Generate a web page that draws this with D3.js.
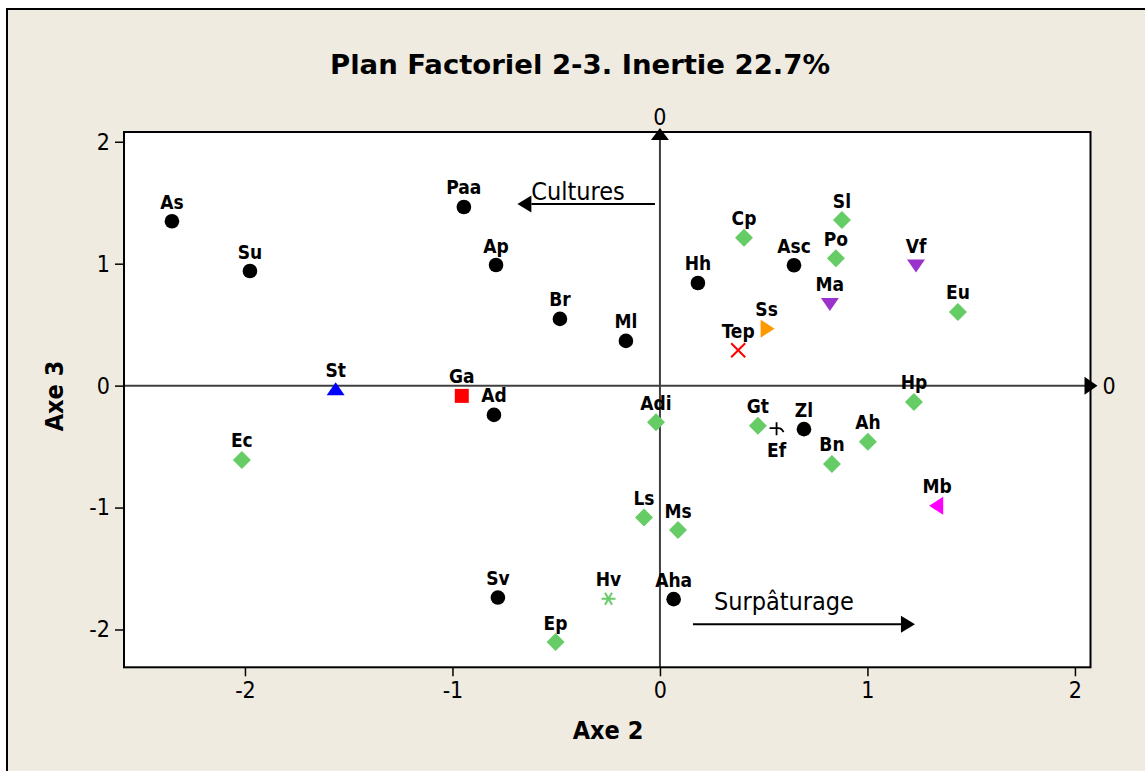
<!DOCTYPE html>
<html>
<head>
<meta charset="utf-8">
<script src="https://cdn.jsdelivr.net/npm/d3@7"></script>
<style>
  html, body { margin: 0; padding: 0; background: #ffffff; }
  svg { display: block; }
  text { font-family: "DejaVu Sans Condensed", "DejaVu Sans", sans-serif; font-stretch: condensed; }
</style>
</head>
<body>
<svg id="chart" width="1145" height="771"></svg>
<script>
// ---- data ----
const names  = ["As","Su","Paa","Ap","Br","Ml","St","Ga","Ad","Ec","Adi","Ls","Ms","Sv","Hv","Ep","Aha",
                "Hh","Cp","Asc","Sl","Po","Vf","Ma","Eu","Ss","Tep","Hp","Gt","Ef","Zl","Ah","Bn","Mb"];
const axe2   = [-2.352,-1.976,-0.945,-0.790,-0.482,-0.164,-1.563,-0.955,-0.800,-2.015,-0.019,-0.077,0.087,-0.781,-0.248,-0.503,0.066,
                0.183,0.405,0.646,0.877,0.848,1.234,0.819,1.436,0.514,0.377,1.224,0.472,0.562,0.694,1.002,0.829,1.336];
const axe3   = [1.348,0.940,1.465,0.989,0.547,0.367,-0.03,-0.084,-0.240,-0.609,-0.300,-1.082,-1.185,-1.738,-1.748,-2.103,-1.751,
                0.842,1.213,0.987,1.358,1.044,0.985,0.670,0.604,0.467,0.290,-0.134,-0.330,-0.349,-0.357,-0.461,-0.642,-0.986];
const groups = ["circle","circle","circle","circle","circle","circle","triUp","square","circle","diamond","diamond","diamond","diamond","circle","asterisk","diamond","circle",
                "circle","diamond","circle","diamond","diamond","triDown","triDown","diamond","triRight","cross","diamond","diamond","plusflag","circle","diamond","diamond","triLeft"];
const labelBelow = ["Ef"];
const groupColors = {circle:"#000000", diamond:"#66CC66", triUp:"#0000FF", square:"#FF0000", triDown:"#9933CC",
                     triRight:"#FF9900", triLeft:"#FF00FF", cross:"#FF0000", asterisk:"#66CC66", plusflag:"#000000"};
const xTicks = [-2,-1,0,1,2];
const yTicks = [-2,-1,0,1,2];
const title = "Plan Factoriel 2-3. Inertie 22.7%";
const xTitle = "Axe 2", yTitle = "Axe 3";
// annotations (data coordinates)
const annotations = [
  {text:"Cultures",    x0:-0.024, x1:-0.687, y:1.49,  tx:-0.62, ty:1.52},
  {text:"Surpâturage", x0:0.159,  x1:1.229,  y:-1.957, tx:0.26, ty:-1.84}
];

// ---- layout ----
const svg = d3.select("#chart");
const x = d3.scaleLinear().domain([-2.583, 2.075]).range([124, 1090.5]);
const y = d3.scaleLinear().domain([-2.31, 2.08]).range([667.3, 132]);

svg.append("rect").attr("x",7).attr("y",9).attr("width",1160).attr("height",790)
  .attr("fill","#EFEBE1").attr("stroke","#000").attr("stroke-width",2);

svg.append("rect").attr("x",x.range()[0]).attr("y",y.range()[1])
  .attr("width",x.range()[1]-x.range()[0]).attr("height",y.range()[0]-y.range()[1])
  .attr("fill","#ffffff");

// axes ticks
const gx = svg.append("g").attr("transform",`translate(0,${y.range()[0]})`)
  .call(d3.axisBottom(x).tickValues(xTicks).tickSize(9).tickPadding(5).tickFormat(d3.format("d")));
const gy = svg.append("g").attr("transform",`translate(${x.range()[0]},0)`)
  .call(d3.axisLeft(y).tickValues(yTicks).tickSize(9).tickPadding(5).tickFormat(d3.format("d")));
[gx,gy].forEach(g=>{
  g.select(".domain").remove();
  g.selectAll(".tick line").attr("stroke","#000").attr("stroke-width",1.5);
  g.selectAll(".tick text").attr("fill","#000").style("font-size","23px");
});
gx.selectAll(".tick text").text(d => d < 0 ? "-" + Math.abs(d) : d);
gy.selectAll(".tick text").text(d => d < 0 ? "-" + Math.abs(d) : d);

// zero axes
const axisCol = "#404040";
svg.append("line").attr("x1",x.range()[0]).attr("x2",x.range()[1]+2).attr("y1",y(0)).attr("y2",y(0))
  .attr("stroke",axisCol).attr("stroke-width",2);
svg.append("line").attr("x1",x(0)).attr("x2",x(0)).attr("y1",y.range()[0]).attr("y2",y.range()[1]+6)
  .attr("stroke",axisCol).attr("stroke-width",2);
// arrowheads on zero axes
svg.append("path").attr("d",`M${x(0)},${y.range()[1]-4} l-9,12 h18 z`).attr("fill","#000");
svg.append("path").attr("d",`M${x.range()[1]+7},${y(0)} l-13,-9 v18 z`).attr("fill","#000");
svg.append("text").attr("x",x(0)).attr("y",y.range()[1]-7).attr("text-anchor","middle")
  .style("font-size","23px").text("0");
svg.append("text").attr("x",x.range()[1]+12).attr("y",y(0)+8).attr("text-anchor","start")
  .style("font-size","23px").text("0");

// frame
svg.append("rect").attr("x",x.range()[0]).attr("y",y.range()[1])
  .attr("width",x.range()[1]-x.range()[0]).attr("height",y.range()[0]-y.range()[1])
  .attr("fill","none").attr("stroke","#000").attr("stroke-width",2);

// annotations
annotations.forEach(a=>{
  const dir = Math.sign(a.x1 - a.x0);
  const tip = x(a.x1), base = tip - dir*14;
  svg.append("line").attr("x1",x(a.x0)).attr("x2",base).attr("y1",y(a.y)).attr("y2",y(a.y))
    .attr("stroke","#000").attr("stroke-width",2);
  svg.append("path").attr("d",`M${tip},${y(a.y)} L${base},${y(a.y)-8.5} L${base},${y(a.y)+8.5} Z`).attr("fill","#000");
  svg.append("text").attr("x",x(a.tx)).attr("y",y(a.ty)).style("font-size","25px").text(a.text);
});

// symbols
function symbolPath(g){
  switch(g){
    case "circle":   return d3.symbol(d3.symbolCircle, 168)();
    case "diamond":  return "M0,-9 L9,0 L0,9 L-9,0 Z";
    case "square":   return "M-7,-7 H7 V7 H-7 Z";
    case "triUp":    return "M0,-7 L9,6 L-9,6 Z";
    case "triDown":  return "M-9,-6 L9,-6 L0,7 Z";
    case "triRight": return "M-6,-9 L8,0 L-6,9 Z";
    case "triLeft":  return "M6,-9 L-8,0 L6,9 Z";
    case "cross":    return "M-7,-7 L7,7 M7,-7 L-7,7";
    case "asterisk": return "M-7,0 H7 M-3.5,-6 L3.5,6 M3.5,-6 L-3.5,6";
    case "plusflag": return "M0,-6 V7 M-7,0 H2 Q5,0 7,4";
  }
}
const pts = names.map((n,i)=>({name:n, x:axe2[i], y:axe3[i], g:groups[i]}));
const strokeOnly = new Set(["cross","asterisk","plusflag"]);
svg.append("g").selectAll("path").data(pts).join("path")
  .attr("transform",d=>`translate(${x(d.x)},${y(d.y)})`)
  .attr("d",d=>symbolPath(d.g))
  .attr("fill",d=>strokeOnly.has(d.g) ? "none" : groupColors[d.g])
  .attr("stroke",d=>strokeOnly.has(d.g) ? groupColors[d.g] : "none")
  .attr("stroke-width",d=>d.g==="plusflag" ? 1.8 : 2);

svg.append("g").selectAll("text").data(pts).join("text")
  .attr("x",d=>x(d.x))
  .attr("y",d=>labelBelow.includes(d.name) ? y(d.y)+29 : y(d.y)-12.5)
  .attr("text-anchor","middle")
  .style("font-size","19px").style("font-weight","bold")
  .text(d=>d.name);

// titles
svg.append("text").attr("x",580).attr("y",74).attr("text-anchor","middle")
  .attr("textLength",500).attr("lengthAdjust","spacingAndGlyphs")
  .style("font-size","27px").style("font-weight","bold").text(title);
svg.append("text").attr("x",608).attr("y",739).attr("text-anchor","middle")
  .style("font-size","25px").style("font-weight","bold").text(xTitle);
svg.append("text").attr("transform","translate(63,396) rotate(-90)").attr("text-anchor","middle")
  .style("font-size","25px").style("font-weight","bold").text(yTitle);
</script>
</body>
</html>
